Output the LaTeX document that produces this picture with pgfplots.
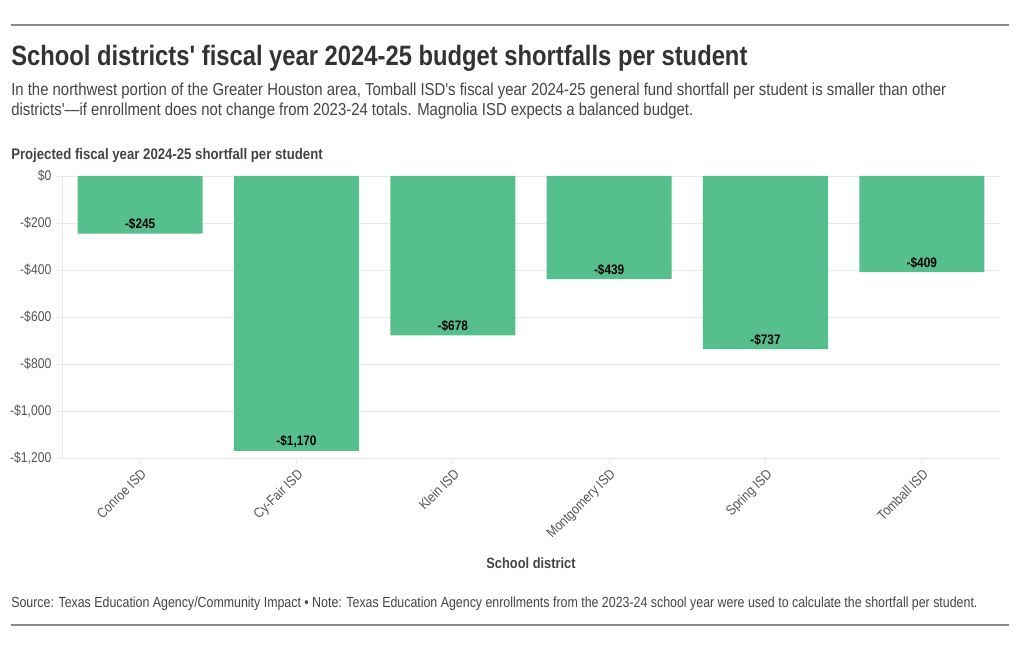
\documentclass[border=0pt]{standalone}
\usepackage{pgfplots}
\pgfplotsset{compat=1.18}
\usepackage{fontspec}
\newfontfamily\cf{Liberation Sans}[FakeStretch=0.86]
\newfontfamily\cft{Liberation Sans}[FakeStretch=0.849]
\newfontfamily\cfs{Liberation Sans}[FakeStretch=0.845]
\definecolor{barg}{HTML}{56BF8E}
\definecolor{titlec}{HTML}{333333}
\definecolor{subc}{HTML}{444444}
\definecolor{axc}{HTML}{555555}
\definecolor{gridc}{HTML}{EAEAEA}
\definecolor{rulec}{HTML}{8A8A8A}
\begin{document}
\begin{tikzpicture}
\begin{scope}[x=0.75pt,y=0.75pt]
\path[use as bounding box] (0,0) rectangle (1020,650);
\draw[rulec, line width=0.9pt] (11,625) -- (1009,625);
\draw[rulec, line width=0.9pt] (11,25) -- (1009,25);
\node[anchor=base west, inner sep=0, text=titlec, font=\cft\bfseries\fontsize{21}{25}\selectfont] at (11,584) {School districts' fiscal year 2024-25 budget shortfalls per student};
\node[anchor=base west, inner sep=0, text=subc, font=\cf\fontsize{13}{15}\selectfont] at (11,554) {In the northwest portion of the Greater Houston area, Tomball ISD's fiscal year 2024-25 general fund shortfall per student is smaller than other};
\node[anchor=base west, inner sep=0, text=subc, font=\cf\fontsize{13}{15}\selectfont] at (11,534) {districts'—if enrollment does not change from 2023-24 totals. Magnolia ISD expects a balanced budget.};
\node[anchor=base west, inner sep=0, text=subc, font=\cf\bfseries\fontsize{11.5}{13}\selectfont] at (11,490) {Projected fiscal year 2024-25 shortfall per student};
\node[anchor=base, inner sep=0, text=subc, font=\cf\bfseries\fontsize{11.2}{13}\selectfont] at (531,82) {School district};
\node[anchor=base west, inner sep=0, text=subc, font=\cfs\fontsize{11}{12}\selectfont] at (11,43) {Source: Texas Education Agency/Community Impact • Note: Texas Education Agency enrollments from the 2023-24 school year were used to calculate the shortfall per student.};
\end{scope}
\begin{axis}[
  at={(46.5pt,144pt)}, anchor=south west,
  scale only axis, width=703.5pt, height=211.5pt,
  xmin=-0.5, xmax=5.5, ymin=-1200, ymax=0,
  axis x line*=bottom, axis y line*=left,
  axis line style={gridc},
  tick style={gridc, line width=0.6pt},
  tick align=outside,
  major tick length=4.5pt,
  ymajorgrids, grid style={gridc, line width=0.6pt},
  ytick={-1200,-1000,-800,-600,-400,-200,0},
  yticklabels={{-\$1,200},{-\$1,000},{-\$800},{-\$600},{-\$400},{-\$200},{\$0}},
  xtick={0,1,2,3,4,5},
  xticklabels={Conroe ISD,Cy-Fair ISD,Klein ISD,Montgomery ISD,Spring ISD,Tomball ISD},
  yticklabel style={font=\cf\fontsize{10.6}{12}\selectfont, text=axc},
  xticklabel style={font=\cf\fontsize{10.5}{12}\selectfont, text=axc, rotate=45, anchor=north east, inner sep=2pt},
  point meta=explicit symbolic,
  nodes near coords={\pgfplotspointmeta},
  every node near coord/.append style={anchor=base, yshift=3.75pt, font=\cf\bfseries\fontsize{10.3}{12}\selectfont, text=black, inner sep=0pt},
]
\addplot[ybar, bar width=0.8, fill=barg, draw=none] coordinates {
(0,-245) [-\$245]
(1,-1170) [-\$1,170]
(2,-678) [-\$678]
(3,-439) [-\$439]
(4,-737) [-\$737]
(5,-409) [-\$409]
};
\end{axis}
\end{tikzpicture}
\end{document}
